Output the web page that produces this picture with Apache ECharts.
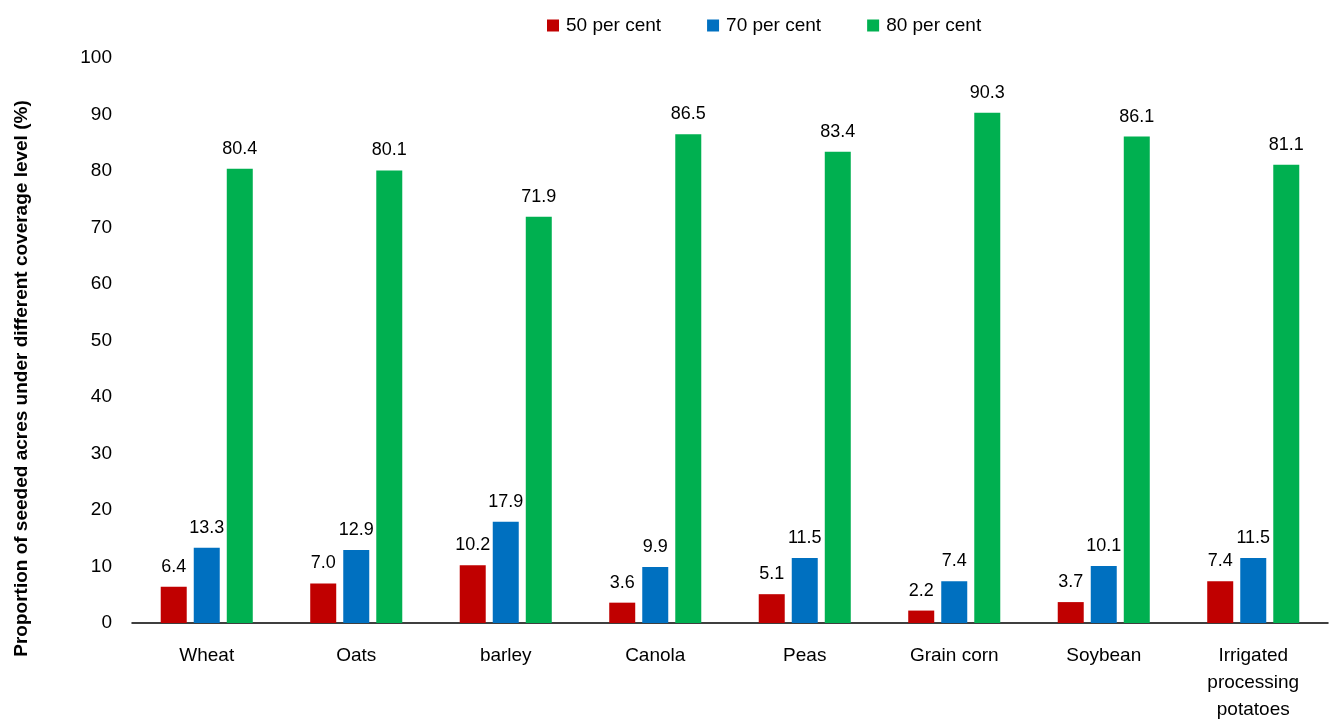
<!DOCTYPE html>
<html><head><meta charset="utf-8">
<script src="https://cdn.jsdelivr.net/npm/echarts@6/dist/echarts.min.js"></script>
<style>html,body{margin:0;padding:0;background:#fff;overflow:hidden}#c{width:1330px;height:723px}</style>
</head><body><div id="c"></div>
<script>
const categories = ['Wheat','Oats','barley','Canola','Peas','Grain corn','Soybean','Irrigated\nprocessing\npotatoes'];
const seriesNames = ['50 per cent','70 per cent','80 per cent'];
const v50 = [6.4, 7.0, 10.2, 3.6, 5.1, 2.2, 3.7, 7.4];
const v70 = [13.3, 12.9, 17.9, 9.9, 11.5, 7.4, 10.1, 11.5];
const v80 = [80.4, 80.1, 71.9, 86.5, 83.4, 90.3, 86.1, 81.1];
const colors = ['#C00000','#0070C0','#00B050'];
const font = 'Liberation Sans, Arial, sans-serif';
const chart = echarts.init(document.getElementById('c'));
const mk = (name, data, color) => ({
  name, type: 'bar', data, barWidth: 26, barGap: '27%',
  itemStyle: {color},
  label: {show: true, position: 'top', distance: 11, fontFamily: font, fontSize: 18, color: '#000',
    formatter: p => p.value.toFixed(1)}
});
chart.setOption({
  animation: false,
  textStyle: {fontFamily: font},
  legend: {top: 11, left: 542, itemWidth: 12, itemHeight: 12, itemGap: 46,
    icon: 'rect', textStyle: {fontFamily: font, fontSize: 19, color: '#000', padding: [0, 0, 0, 2]},
    data: seriesNames},
  grid: {left: 132, right: 2, top: 58, bottom: 94, containLabel: false},
  xAxis: {type: 'category', data: categories,
    axisLine: {lineStyle: {color: '#000', width: 1.5}}, axisTick: {show: false},
    axisLabel: {fontFamily: font, fontSize: 19, color: '#000', margin: 19, lineHeight: 27, interval: 0}},
  yAxis: {type: 'value', min: 0, max: 100, interval: 10,
    name: 'Proportion of seeded acres under different coverage level (%)',
    nameLocation: 'middle', nameGap: 101, nameRotate: 90,
    nameTextStyle: {fontFamily: font, fontSize: 19, fontWeight: 'bold', color: '#000', padding: [0, 76, 0, 0]},
    axisLine: {show: false}, axisTick: {show: false}, splitLine: {show: false},
    axisLabel: {fontFamily: font, fontSize: 19, color: '#000', margin: 20}},
  series: [mk(seriesNames[0], v50, colors[0]), mk(seriesNames[1], v70, colors[1]), mk(seriesNames[2], v80, colors[2])]
});
</script></body></html>
